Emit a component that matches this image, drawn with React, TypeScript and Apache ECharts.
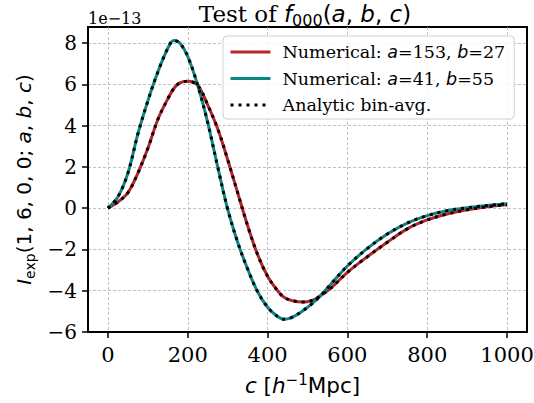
import React, { useEffect, useRef } from 'react';
import * as echarts from 'echarts';

const cValues = [0, 25, 50, 75, 100, 125, 150, 165, 180, 200, 225, 250, 275, 300, 325, 350, 375, 400, 425, 440, 460, 490, 510, 532, 560, 600, 650, 700, 750, 800, 850, 900, 950, 1000];
// values in units of 1e-13
const numA153B27 = [0, 0.3, 0.75, 1.7, 2.9, 4.3, 5.3, 5.8, 6.07, 6.15, 5.95, 5.0, 3.85, 2.35, 0.75, -0.85, -2.25, -3.3, -4.0, -4.3, -4.47, -4.55, -4.48, -4.25, -3.85, -3.11, -2.35, -1.65, -1.0, -0.57, -0.28, -0.08, 0.07, 0.17];
const numA41B55 = [0, 0.55, 1.7, 3.6, 5.2, 6.6, 7.75, 8.13, 8.0, 7.35, 5.95, 4.15, 2.0, -0.05, -1.65, -2.95, -4.05, -4.8, -5.25, -5.38, -5.3, -4.95, -4.65, -4.25, -3.65, -2.8, -1.95, -1.25, -0.72, -0.36, -0.12, 0.02, 0.13, 0.21];
const analyticA153B27 = numA153B27;
const analyticA41B55 = numA41B55;
const xTicks = [0, 200, 400, 600, 800, 1000];
const yTicks = [-6, -4, -2, 0, 2, 4, 6, 8];

const RED = '#b8232a';
const TEAL = '#0a8585';
const SERIF = '"DejaVu Serif", serif';
const SANS = '"DejaVu Sans", sans-serif';

const pairs = (xs: number[], ys: number[]) => xs.map((x, i) => [x, ys[i]]);
const fmtMinus = (v: number) => (v < 0 ? '\u2212' + Math.abs(v) : String(v));

export default function App() {
  const ref = useRef<HTMLDivElement>(null);
  useEffect(() => {
    if (!ref.current) return;
    const chart = echarts.init(ref.current, undefined, { renderer: 'svg' });
    const legendRich = {
      s: { fontFamily: SERIF, fontSize: 17.5, color: '#000', lineHeight: 20 },
      i: { fontFamily: SANS, fontStyle: 'italic', fontSize: 17.5, color: '#000', lineHeight: 20 },
    };
    const legendNames: Record<string, string> = {
      'Numerical: a=153, b=27': '{s|Numerical: }{i|a}{s|=153, }{i|b}{s|=27}',
      'Numerical: a=41, b=55': '{s|Numerical: }{i|a}{s|=41, }{i|b}{s|=55}',
      'Analytic bin-avg.': '{s|Analytic bin-avg.}',
    };
    const gridLine = { show: true, lineStyle: { color: '#b3b3b3', width: 0.8, type: [3, 2] as any } };
    const lineCommon = { type: 'line', showSymbol: false, symbol: 'none', smooth: 0.35 };
    chart.setOption({
      animation: false,
      title: {
        text: '{s|Test of }{i|f}{sub|000}{m|(}{i|a}{m|, }{i|b}{m|, }{i|c}{m|)}',
        left: 300,
        textAlign: 'center',
        top: -5,
        textStyle: {
          fontWeight: 'normal',
          rich: {
            s: { fontFamily: SERIF, fontSize: 23, fontWeight: 'normal', color: '#000', lineHeight: 28 },
            m: { fontFamily: SANS, fontSize: 23, fontWeight: 'normal', color: '#000', lineHeight: 28 },
            i: { fontFamily: SANS, fontStyle: 'italic', fontWeight: 'normal', fontSize: 23, color: '#000', lineHeight: 28 },
            sub: { fontFamily: SANS, fontSize: 16, fontWeight: 'normal', color: '#000', lineHeight: 15, verticalAlign: 'bottom' },
          },
        },
      },
      graphic: [
        { type: 'text', left: 88, top: 10, style: { text: '1e\u221213', font: `16px ${SERIF}`, fill: '#000' } },
      ],
      legend: {
        left: 223,
        top: 36,
        orient: 'vertical',
        itemWidth: 40,
        itemHeight: 18,
        itemGap: 8.5,
        padding: [7, 9, 5, 6],
        backgroundColor: 'rgba(255,255,255,0.85)',
        borderColor: '#d0d0d0',
        borderWidth: 1,
        borderRadius: 4,
        itemStyle: { opacity: 0 },
        lineStyle: { width: 3 },
        data: ['Numerical: a=153, b=27', 'Numerical: a=41, b=55', 'Analytic bin-avg.'],
        formatter: (name: string) => legendNames[name] || name,
        textStyle: { rich: legendRich, padding: [0, 0, 0, 7] },
      },
      grid: { left: 88, right: 7, top: 27, bottom: 71, show: true, borderColor: '#000', borderWidth: 2, containLabel: false, outerBoundsMode: 'none' },
      xAxis: {
        type: 'value',
        min: -50,
        max: 1050,
        axisLine: { show: true, onZero: false, lineStyle: { color: '#000', width: 2 } },
        axisTick: { show: true, length: 6, customValues: xTicks, lineStyle: { color: '#000', width: 1.5 } },
        axisLabel: { customValues: xTicks, color: '#000', fontFamily: SERIF, fontSize: 21, margin: 12, formatter: (v: number) => fmtMinus(v) },
        splitLine: gridLine,
        name: '{i|c}{m| [}{i|h}{sup|\u22121}{m|Mpc]}',
        nameLocation: 'middle',
        nameGap: 40,
        nameTextStyle: {
          padding: [0, 10, 0, 0],
          rich: {
            m: { fontFamily: SANS, fontSize: 21.5, color: '#000', lineHeight: 26 },
            i: { fontFamily: SANS, fontStyle: 'italic', fontSize: 21.5, color: '#000', lineHeight: 26 },
            sup: { fontFamily: SANS, fontSize: 15, color: '#000', lineHeight: 15, verticalAlign: 'top' },
          },
        },
      },
      yAxis: {
        type: 'value',
        min: -6,
        max: 8.78,
        axisLine: { show: true, onZero: false, lineStyle: { color: '#000', width: 2 } },
        axisTick: { show: true, length: 6, customValues: yTicks, lineStyle: { color: '#000', width: 1.5 } },
        axisLabel: { customValues: yTicks, color: '#000', fontFamily: SERIF, fontSize: 20, margin: 11, formatter: (v: number) => fmtMinus(v) },
        splitLine: gridLine,
        name: '{i|I}{sub|exp}{m|(1, 6, 0, 0; }{i|a}{m|, }{i|b}{m|, }{i|c}{m|)}',
        nameLocation: 'middle',
        nameRotate: 90,
        nameGap: 43,
        nameTextStyle: {
          rich: {
            m: { fontFamily: SANS, fontSize: 20, color: '#000', lineHeight: 25 },
            i: { fontFamily: SANS, fontStyle: 'italic', fontSize: 20, color: '#000', lineHeight: 25 },
            sub: { fontFamily: SANS, fontSize: 14, color: '#000', lineHeight: 14, verticalAlign: 'bottom' },
          },
        },
      },
      series: [
        { ...lineCommon, name: 'Numerical: a=153, b=27', data: pairs(cValues, numA153B27), lineStyle: { color: RED, width: 3 }, itemStyle: { color: RED }, z: 2 },
        { ...lineCommon, name: 'Numerical: a=41, b=55', data: pairs(cValues, numA41B55), lineStyle: { color: TEAL, width: 3 }, itemStyle: { color: TEAL }, z: 2 },
        { ...lineCommon, name: 'Analytic bin-avg.', data: pairs(cValues, analyticA153B27), lineStyle: { color: '#000', width: 3, type: [3, 5], cap: 'butt' }, itemStyle: { color: '#000' }, z: 3 },
        { ...lineCommon, name: 'Analytic bin-avg.', data: pairs(cValues, analyticA41B55), lineStyle: { color: '#000', width: 3, type: [3, 5], cap: 'butt' }, itemStyle: { color: '#000' }, z: 3 },
      ],
    });
    return () => chart.dispose();
  }, []);
  return <div ref={ref} style={{ position: 'fixed', left: 0, top: 0, width: 534, height: 403, background: '#fff' }} />;
}
